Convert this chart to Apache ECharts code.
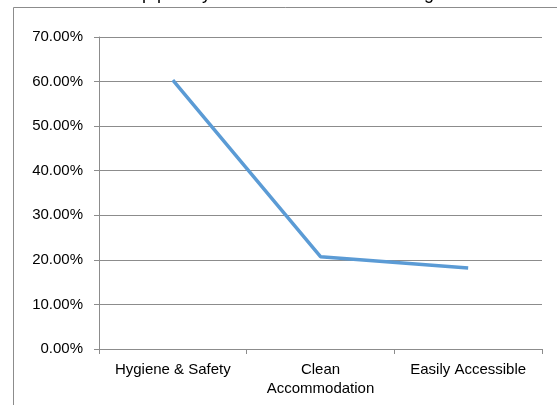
<!DOCTYPE html>
<html><head><meta charset="utf-8">
<script src="https://cdn.jsdelivr.net/npm/echarts@6/dist/echarts.min.js"></script>
<style>html,body{margin:0;padding:0;background:#fff}#c{width:557px;height:405px}</style>
</head><body><div id="c"></div>
<script>
const titleText = 'Top priority of Tourists in Hotel Booking';
const categories = ['Hygiene & Safety', 'Clean\nAccommodation', 'Easily Accessible'];
const values = [0.603, 0.207, 0.182];
const yTicks = {min: 0, max: 0.7, interval: 0.1};

const chart = echarts.init(document.getElementById('c'), null, {renderer: 'canvas'});
const grey = '#8c8c8c';
const font = 'Liberation Sans, Arial, sans-serif';
chart.setOption({
  animation: false,
  backgroundColor: '#fff',
  title: {
    text: titleText, left: 'center', top: -20,
    textStyle: {fontFamily: font, fontSize: 18, fontWeight: 'normal', color: '#000'}
  },
  graphic: [{
    type: 'rect', shape: {x: 13.5, y: 7.5, width: 700, height: 600},
    style: {fill: 'none', stroke: grey, lineWidth: 1}, silent: true, z: 0
  }],
  grid: {left: 99, right: 15, top: 37, bottom: 56, containLabel: false},
  xAxis: {
    type: 'category', data: categories, boundaryGap: true,
    axisLine: {show: true, lineStyle: {color: grey, width: 1}},
    axisTick: {show: true, length: 5, lineStyle: {color: grey}},
    axisLabel: {interval: 0, margin: 11, lineHeight: 19, fontFamily: font, fontSize: 15, color: '#000'}
  },
  yAxis: {
    type: 'value', min: yTicks.min, max: yTicks.max, interval: yTicks.interval,
    axisLine: {show: true, lineStyle: {color: grey, width: 1}},
    axisTick: {show: true, length: 5, lineStyle: {color: grey}},
    splitLine: {show: true, lineStyle: {color: grey, width: 1}},
    axisLabel: {margin: 16, fontFamily: font, fontSize: 15, color: '#000',
      formatter: v => (v * 100).toFixed(2) + '%'}
  },
  series: [{
    type: 'line', data: values, showSymbol: false, symbol: 'none',
    lineStyle: {color: '#5b9bd5', width: 3.5}, itemStyle: {color: '#5b9bd5'}
  }]
});
</script></body></html>
